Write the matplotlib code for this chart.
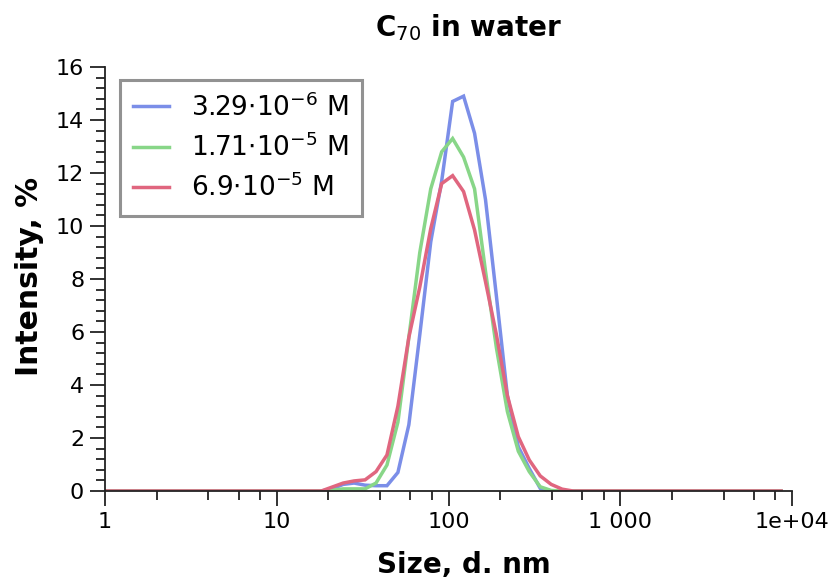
import matplotlib
matplotlib.use("Agg")
import matplotlib.pyplot as plt
from matplotlib.ticker import FixedLocator, FixedFormatter

# Malvern-style size bins (nm)
sizes = [0.9649, 1.117, 1.294, 1.499, 1.736, 2.01, 2.328, 2.696, 3.122, 3.615,
         4.187, 4.849, 5.615, 6.503, 7.531, 8.721, 10.1, 11.7, 13.54, 15.69,
         18.17, 21.04, 24.36, 28.21, 32.67, 37.84, 43.82, 50.75, 58.77, 68.06,
         78.82, 91.28, 105.7, 122.4, 141.8, 164.2, 190.1, 220.2, 255.0, 295.3,
         342.0, 396.1, 458.7, 531.2, 615.1, 712.4, 825.0, 955.4, 1106, 1281,
         1484, 1718, 1990, 2305, 2669, 3091, 3580, 4145, 4801, 5560,
         6439, 7456, 8635]

lead_zeros = [0.0] * 20
tail_zeros = [0.0] * 19

blue_core = [0.0, 0.08, 0.25, 0.3, 0.22, 0.2, 0.2, 0.7, 2.5, 5.9,
             9.4, 11.7, 14.7, 14.9, 13.5, 11.0, 7.35, 3.6, 1.67, 0.85,
             0.1, 0.0, 0.0, 0.0]
green_core = [0.0, 0.03, 0.08, 0.08, 0.08, 0.3, 0.98, 2.6, 5.8, 9.0,
              11.4, 12.8, 13.3, 12.6, 11.4, 8.3, 5.4, 3.0, 1.5, 0.73,
              0.16, 0.02, 0.0, 0.0]
red_core = [0.0, 0.15, 0.3, 0.38, 0.42, 0.73, 1.36, 3.2, 5.8, 7.7,
            9.9, 11.6, 11.9, 11.3, 9.85, 7.9, 5.9, 3.6, 2.05, 1.17,
            0.57, 0.25, 0.07, 0.0]

blue = lead_zeros + blue_core + tail_zeros
green = lead_zeros + green_core + tail_zeros
red = lead_zeros + red_core + tail_zeros

labels = [r"3.29$\cdot$10$^{-6}$ M", r"1.71$\cdot$10$^{-5}$ M", r"6.9$\cdot$10$^{-5}$ M"]
colors = ["#7b8ee8", "#88d688", "#e0667f"]

x_major = [1, 10, 100, 1000, 10000]
x_major_labels = ["1", "10", "100", "1 000", "1e+04"]
x_minor = [m * 10 ** d for d in range(4) for m in (2, 4, 6, 8)]
y_major = list(range(0, 17, 2))
y_minor = [i * 0.4 for i in range(41)]

plt.rcParams['font.family'] = ['DejaVu Sans']

fig = plt.figure(figsize=(8.35, 5.83), dpi=100)
ax = fig.add_axes([105 / 835, 1 - 491 / 583, (792 - 105) / 835, (491 - 67) / 583])

for ys, c, lab in zip([blue, green, red], colors, labels):
    ax.plot(sizes, ys, color=c, lw=2.5, label=lab, solid_joinstyle='miter')

ax.set_xscale('log')
ax.set_xlim(1, 10000)
ax.set_ylim(0, 16)

ax.xaxis.set_major_locator(FixedLocator(x_major))
ax.xaxis.set_major_formatter(FixedFormatter(x_major_labels))
ax.xaxis.set_minor_locator(FixedLocator(x_minor))
ax.xaxis.set_minor_formatter(FixedFormatter([""] * len(x_minor)))
ax.yaxis.set_major_locator(FixedLocator(y_major))
ax.yaxis.set_minor_locator(FixedLocator(y_minor))

for s in ['top', 'right']:
    ax.spines[s].set_visible(False)
for s in ['left', 'bottom']:
    ax.spines[s].set_linewidth(1.3)
    ax.spines[s].set_color('#222222')

ax.tick_params(axis='both', which='major', length=11, width=1.3, labelsize=16,
               direction='out', color='#222222', pad=4)
ax.tick_params(axis='both', which='minor', length=6.5, width=1.3,
               direction='out', color='#222222')

fig.text(468 / 835, 1 - 28 / 583, r"C$_{70}$ in water", ha='center', va='center',
         fontsize=20, fontweight='bold')
fig.text(464 / 835, 1 - 565 / 583, "Size, d. nm", ha='center', va='center',
         fontsize=20, fontweight='bold')
fig.text(30 / 835, 1 - 276 / 583, "Intensity, %", ha='center', va='center',
         rotation=90, fontsize=21.5, fontweight='bold')

leg = ax.legend(loc='upper left', bbox_to_anchor=(120 / 835, 1 - 80 / 583),
                bbox_transform=fig.transFigure, fontsize=19, frameon=True,
                fancybox=False, handlelength=1.35, handletextpad=0.85,
                borderpad=0.5, labelspacing=0.45, borderaxespad=0)
leg.get_frame().set_edgecolor('#777777')
leg.get_frame().set_linewidth(2.2)

fig.savefig("out.png", dpi=100)
